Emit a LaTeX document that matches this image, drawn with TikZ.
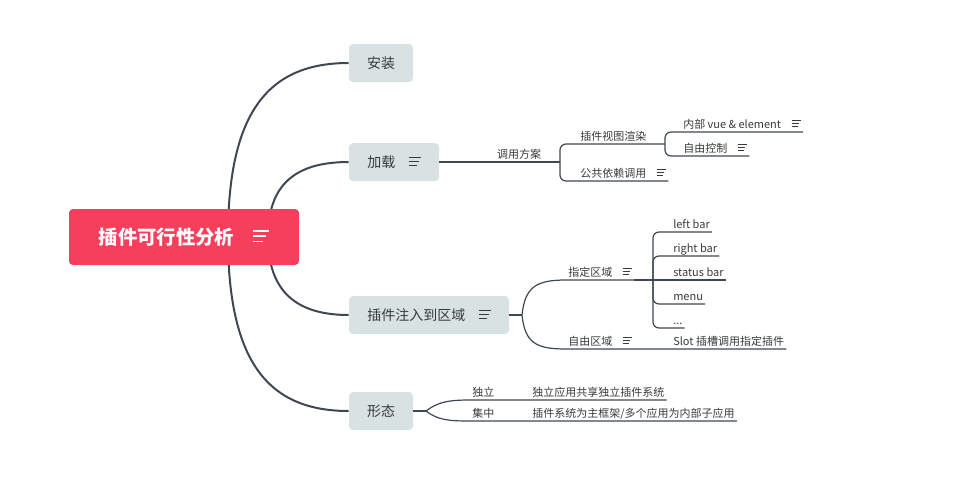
\documentclass[tikz,border=0pt]{standalone}
\usepackage{fontspec}
\setmainfont{Noto Sans CJK SC}
\usepackage{xcolor}
\usetikzlibrary{positioning, calc, backgrounds}
\definecolor{mmRoot}{HTML}{F63F5D}
\definecolor{mmTopic}{HTML}{D8E2E2}
\definecolor{mmLine}{HTML}{3F4852}
\definecolor{mmText}{HTML}{3A3A3A}
\newcommand{\noteicon}{\hspace{0.95em}{\setlength{\unitlength}{0.1em}\begin{picture}(8.5,7)%
  \put(0,6.5){\rule{0.85em}{0.09em}}%
  \put(0,3.75){\rule{0.7em}{0.09em}}%
  \put(0,1){\rule{0.56em}{0.09em}}%
\end{picture}}}
\tikzset{
  mm-root/.style={
    rectangle, rounded corners=3pt, fill=mmRoot, text=white,
    minimum width=172.5pt, minimum height=42pt, inner sep=0pt,
    font=\fontsize{14.5pt}{17pt}\selectfont\bfseries
  },
  mm-topic/.style={
    rectangle, rounded corners=3pt, fill=mmTopic, text=mmText,
    minimum height=28.5pt, inner sep=0pt,
    font=\fontsize{10.5pt}{13pt}\selectfont
  },
  mm-leaf/.style={
    anchor=south west, inner xsep=1.5pt, inner ysep=0pt,
    text height=0.8em, text depth=0.25em, text=mmText,
    font=\fontsize{8.25pt}{10pt}\selectfont
  },
  mm-main/.style={line width=1.5pt, draw=mmLine},
  mm-sub/.style={line width=0.9pt, draw=mmLine},
}

\begin{document}
\begin{tikzpicture}[x=0.75pt, y=-0.75pt]
  \useasboundingbox (0,0) rectangle (961,497);

  % central topic and main branches
  \node[mm-root] (root) at (184,237) {插件可行性分析\noteicon};
  \node[mm-topic, minimum width=48pt] (install) at (381,63) {安装};
  \node[mm-topic, minimum width=67.5pt] (load) at (394,162) {加载\noteicon};
  \node[mm-topic, minimum width=120pt] (inject) at (429,315) {插件注入到区域\noteicon};
  \node[mm-topic, minimum width=48pt] (form) at (381,411) {形态};

  % load
  \node[mm-leaf, anchor=south] (scheme) at (519,162) {调用方案};
  \coordinate (loadj) at (560,162);
  \node[mm-leaf] (render) at (578,144) {插件视图渲染};
  \coordinate (renderj) at (665,144);
  \node[mm-leaf] (inner) at (681,132) {内部 vue \& element\noteicon};
  \node[mm-leaf] (ownctrl) at (681,156) {自由控制\noteicon};
  \node[mm-leaf] (shared) at (578,181) {公共依赖调用\noteicon};

  % inject
  \coordinate (injectj) at (522,315);
  \node[mm-leaf] (fixed) at (566,280) {指定区域\noteicon};
  \coordinate (fixedj) at (653,280);
  \node[mm-leaf] (leftbar) at (671,232) {left bar};
  \node[mm-leaf] (rightbar) at (671,256) {right bar};
  \node[mm-leaf] (statusbar) at (671,280) {status bar};
  \node[mm-leaf] (menu) at (671,304) {menu};
  \node[mm-leaf] (more) at (671,328) {...};
  \node[mm-leaf] (free) at (566,349) {自由区域\noteicon};
  \node[mm-leaf] (slot) at (671,349) {Slot 插槽调用指定插件};

  % form
  \coordinate (formj) at (426,411);
  \node[mm-leaf] (alone) at (470,400) {独立};
  \node[mm-leaf] (aloneapp) at (530,400) {独立应用共享独立插件系统};
  \node[mm-leaf] (central) at (470,421) {集中};
  \node[mm-leaf] (centralapp) at (530,421) {插件系统为主框架/多个应用为内部子应用};

  \begin{scope}[on background layer]
    \draw[mm-main] ($(root.center)+(44,0)$) .. controls +(0,-127) and +(-79,0) .. (install.west);
    \draw[mm-main] ($(root.center)+(84,0)$) .. controls +(0,-52) and +(-54,0) .. (load.west);
    \draw[mm-main] ($(root.center)+(84,0)$) .. controls +(0,53) and +(-54,0) .. (inject.west);
    \draw[mm-main] ($(root.center)+(44,0)$) .. controls +(0,127) and +(-79,0) .. (form.west);
  \end{scope}

  \draw[mm-sub] (load.east) -- (loadj);
  \draw[mm-sub, rounded corners=4.5pt] (loadj) |- (render.south west) -- (renderj);
  \draw[mm-sub, rounded corners=4.5pt] (loadj) |- (shared.south east);
  \draw[mm-sub, rounded corners=4.5pt] (renderj) |- (inner.south east);
  \draw[mm-sub, rounded corners=4.5pt] (renderj) |- (ownctrl.south east);

  \draw[mm-sub] (inject.east) -- (injectj);
  \draw[mm-sub] (injectj) .. controls +(3,-28) and +(-30,0) .. (fixed.south west) -- (fixed.south east);
  \draw[line width=1.6pt, mmLine] (fixed.south east) -- (fixedj);
  \foreach \leaf in {leftbar, rightbar, menu, more}
    \draw[mm-sub, rounded corners=4.5pt] (fixedj) |- (\leaf.south east);
  \draw[mm-sub] (fixedj) -- (statusbar.south east);
  \draw[mm-sub] (injectj) .. controls +(3,28) and +(-30,0) .. (free.south west) -- (free.south east) -- (slot.south east);

  \draw[mm-sub] (form.east) -- (formj);
  \draw[mm-sub] (formj) .. controls +(12,-9) and +(-22,0) .. (alone.south west) -- (aloneapp.south east);
  \draw[mm-sub] (formj) .. controls +(12,9) and +(-22,0) .. (central.south west) -- (centralapp.south east);
\end{tikzpicture}
\end{document}
